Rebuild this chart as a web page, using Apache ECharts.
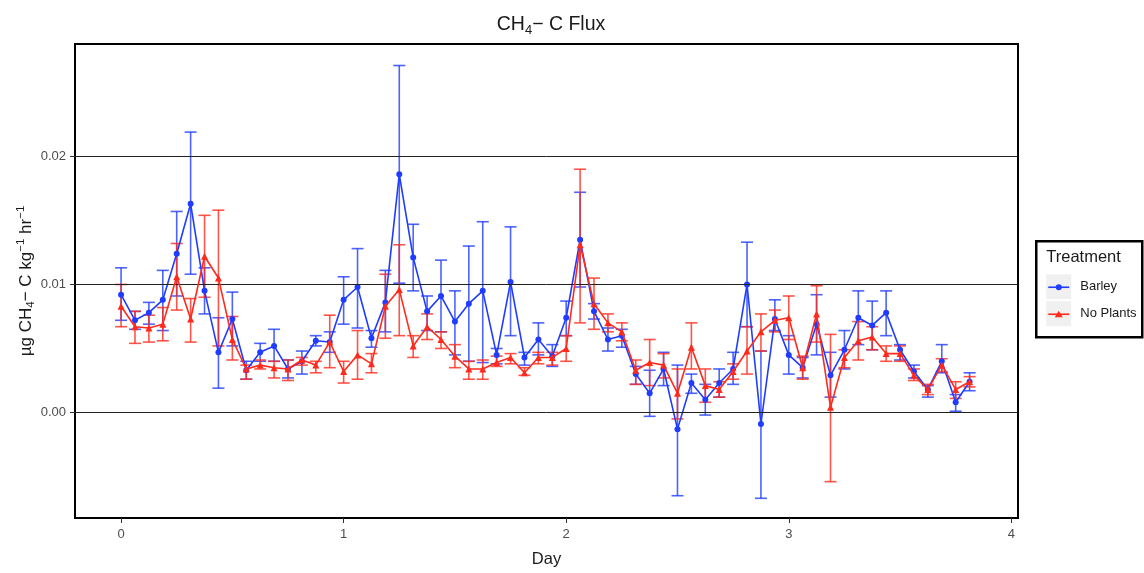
<!DOCTYPE html>
<html>
<head>
<meta charset="utf-8">
<script src="https://cdn.jsdelivr.net/npm/echarts@6/dist/echarts.min.js"></script>
<style>
  html, body { margin: 0; padding: 0; background: #fff; }
  #chart { width: 1144px; height: 573px; }
</style>
</head>
<body>
<div id="chart"></div>
<script>
// Sampling times (days since start, every 1.5 h)
const days = [
  0.0000, 0.0625, 0.1250, 0.1875, 0.2500, 0.3125, 0.3750, 0.4375,
  0.5000, 0.5625, 0.6250, 0.6875, 0.7500, 0.8125, 0.8750, 0.9375,
  1.0000, 1.0625, 1.1250, 1.1875, 1.2500, 1.3125, 1.3750, 1.4375,
  1.5000, 1.5625, 1.6250, 1.6875, 1.7500, 1.8125, 1.8750, 1.9375,
  2.0000, 2.0625, 2.1250, 2.1875, 2.2500, 2.3125, 2.3750, 2.4375,
  2.5000, 2.5625, 2.6250, 2.6875, 2.7500, 2.8125, 2.8750, 2.9375,
  3.0000, 3.0625, 3.1250, 3.1875, 3.2500, 3.3125, 3.3750, 3.4375,
  3.5000, 3.5625, 3.6250, 3.6875, 3.7500, 3.8125
];

// Barley: mean flux and error bar limits
const barleyMean = [
  0.0092, 0.0072, 0.0078, 0.0088, 0.0124, 0.0163, 0.0095, 0.0047,
  0.0073, 0.0033, 0.0047, 0.0052, 0.0034, 0.0040, 0.0056, 0.0055,
  0.0088, 0.0098, 0.0058, 0.0086, 0.0186, 0.0121, 0.0079, 0.0091,
  0.0071, 0.0085, 0.0095, 0.0045, 0.0102, 0.0043, 0.0057, 0.0044,
  0.0074, 0.0135, 0.0079, 0.0057, 0.0060, 0.0030, 0.0015, 0.0034,
  -0.0013, 0.0023, 0.0010, 0.0023, 0.0034, 0.0100, -0.0009, 0.0073,
  0.0045, 0.0035, 0.0069, 0.0029, 0.0049, 0.0074, 0.0068, 0.0078,
  0.0049, 0.0032, 0.0018, 0.0040, 0.0008, 0.0024
];
const barleyHigh = [
  0.0113, 0.0079, 0.0086, 0.0111, 0.0157, 0.0219, 0.0113, 0.0074,
  0.0094, 0.0040, 0.0054, 0.0065, 0.0041, 0.0048, 0.0060, 0.0063,
  0.0106, 0.0128, 0.0064, 0.0111, 0.0271, 0.0147, 0.0091, 0.0119,
  0.0095, 0.0130, 0.0149, 0.0050, 0.0145, 0.0047, 0.0070, 0.0053,
  0.0087, 0.0172, 0.0085, 0.0066, 0.0065, 0.0036, 0.0033, 0.0047,
  0.0037, 0.0030, 0.0022, 0.0034, 0.0047, 0.0133, 0.0048, 0.0088,
  0.0060, 0.0043, 0.0092, 0.0047, 0.0064, 0.0095, 0.0087, 0.0095,
  0.0053, 0.0037, 0.0021, 0.0053, 0.0014, 0.0031
];
const barleyLow = [
  0.0072, 0.0065, 0.0069, 0.0064, 0.0091, 0.0108, 0.0077, 0.0019,
  0.0052, 0.0026, 0.0040, 0.0040, 0.0027, 0.0030, 0.0052, 0.0047,
  0.0069, 0.0066, 0.0051, 0.0063, 0.0101, 0.0095, 0.0064, 0.0063,
  0.0045, 0.0040, 0.0039, 0.0038, 0.0060, 0.0037, 0.0045, 0.0036,
  0.0060, 0.0098, 0.0073, 0.0048, 0.0051, 0.0022, -0.0003, 0.0021,
  -0.0065, 0.0015, -0.0002, 0.0012, 0.0022, 0.0067, -0.0067, 0.0064,
  0.0030, 0.0027, 0.0045, 0.0012, 0.0034, 0.0053, 0.0049, 0.0060,
  0.0041, 0.0027, 0.0012, 0.0031, 0.0001, 0.0017
];

// No Plants: mean flux and error bar limits
const noPlantsMean = [
  0.0083, 0.0067, 0.0066, 0.0069, 0.0106, 0.0073, 0.0122, 0.0105,
  0.0057, 0.0034, 0.0037, 0.0035, 0.0034, 0.0041, 0.0037, 0.0055,
  0.0032, 0.0045, 0.0038, 0.0083, 0.0096, 0.0052, 0.0067, 0.0057,
  0.0044, 0.0034, 0.0034, 0.0039, 0.0043, 0.0031, 0.0043, 0.0043,
  0.0050, 0.0131, 0.0085, 0.0070, 0.0063, 0.0033, 0.0039, 0.0037,
  0.0015, 0.0051, 0.0021, 0.0018, 0.0032, 0.0048, 0.0063, 0.0072,
  0.0074, 0.0035, 0.0077, 0.0004, 0.0043, 0.0056, 0.0059, 0.0046,
  0.0046, 0.0029, 0.0018, 0.0037, 0.0018, 0.0024
];
const noPlantsHigh = [
  0.0100, 0.0079, 0.0076, 0.0082, 0.0132, 0.0089, 0.0154, 0.0158,
  0.0075, 0.0037, 0.0041, 0.0040, 0.0041, 0.0043, 0.0040, 0.0076,
  0.0040, 0.0064, 0.0046, 0.0108, 0.0131, 0.0060, 0.0077, 0.0063,
  0.0053, 0.0040, 0.0041, 0.0044, 0.0046, 0.0035, 0.0047, 0.0047,
  0.0060, 0.0190, 0.0105, 0.0077, 0.0070, 0.0041, 0.0057, 0.0046,
  0.0034, 0.0070, 0.0034, 0.0024, 0.0038, 0.0067, 0.0077, 0.0080,
  0.0091, 0.0044, 0.0099, 0.0061, 0.0049, 0.0071, 0.0067, 0.0052,
  0.0052, 0.0034, 0.0022, 0.0042, 0.0024, 0.0028
];
const noPlantsLow = [
  0.0067, 0.0054, 0.0055, 0.0056, 0.0080, 0.0055, 0.0090, 0.0052,
  0.0041, 0.0026, 0.0034, 0.0027, 0.0025, 0.0037, 0.0031, 0.0035,
  0.0023, 0.0026, 0.0031, 0.0058, 0.0060, 0.0043, 0.0057, 0.0050,
  0.0035, 0.0026, 0.0026, 0.0036, 0.0038, 0.0029, 0.0038, 0.0037,
  0.0040, 0.0070, 0.0065, 0.0063, 0.0056, 0.0022, 0.0021, 0.0027,
  -0.0005, 0.0034, 0.0008, 0.0012, 0.0026, 0.0030, 0.0048, 0.0063,
  0.0057, 0.0026, 0.0055, -0.0054, 0.0035, 0.0041, 0.0049, 0.0040,
  0.0040, 0.0025, 0.0014, 0.0032, 0.0011, 0.0020
];

// Axis ticks
const xTicks = [0, 1, 2, 3, 4];
const yTicks = [0.00, 0.01, 0.02];

const BLUE = '#1f3cff';
const RED = '#ff2a1c';
const FONT = '"Liberation Sans", Arial, Helvetica, sans-serif';
const INK = '#1a1a1a';

const zip = (a, b) => a.map((v, i) => [v, b[i]]);
const errRows = (lo, hi) => days.map((d, i) => [d, lo[i], hi[i]]);

// Vertical error bar with flat caps at both ends
function errorBars(color) {
  return function (params, api) {
    const x = api.value(0);
    const lo = api.coord([x, api.value(1)]);
    const hi = api.coord([x, api.value(2)]);
    const half = 6;
    const style = { stroke: color, lineWidth: 1.6, opacity: 0.8 };
    return {
      type: 'group',
      children: [
        { type: 'line', shape: { x1: hi[0], y1: hi[1], x2: lo[0], y2: lo[1] }, style },
        { type: 'line', shape: { x1: hi[0] - half, y1: hi[1], x2: hi[0] + half, y2: hi[1] }, style },
        { type: 'line', shape: { x1: lo[0] - half, y1: lo[1], x2: lo[0] + half, y2: lo[1] }, style }
      ]
    };
  };
}

const chart = echarts.init(document.getElementById('chart'), null, { renderer: 'canvas' });

const option = {
  animation: false,
  backgroundColor: '#fff',
  textStyle: { fontFamily: FONT },
  title: {
    text: '{a|CH}{b|4}{a|\u2212 C Flux}',
    left: 546, top: 8, textAlign: 'center',
    textStyle: {
      fontWeight: 'normal',
      rich: {
        a: { fontSize: 19.5, fontFamily: FONT, fontWeight: 'normal', color: INK, lineHeight: 24 },
        b: { fontSize: 13, fontFamily: FONT, fontWeight: 'normal', color: INK, verticalAlign: 'bottom', padding: [11, 0, 0, 0] }
      }
    }
  },
  grid: {
    left: 75, right: 126, top: 44, bottom: 44,
    show: true, borderColor: '#000', borderWidth: 2, backgroundColor: '#fff'
  },
  xAxis: {
    type: 'value',
    min: -0.207, max: 4.03,
    name: 'Day', nameLocation: 'middle', nameGap: 33,
    nameTextStyle: { fontSize: 16.5, color: INK, fontFamily: FONT },
    axisLine: { show: false, onZero: false },
    splitLine: { show: false },
    axisTick: { show: true, customValues: xTicks, length: 5, lineStyle: { color: '#333' } },
    axisLabel: { customValues: xTicks, color: '#4d4d4d', fontSize: 13, margin: 10, fontFamily: FONT,
      formatter: v => String(v) }
  },
  yAxis: {
    type: 'value',
    min: -0.00824, max: 0.02878,
    name: '{a|\u00b5g CH}{b|4}{a|\u2212 C kg}{c|\u22121}{a| hr}{c|\u22121}',
    nameLocation: 'middle', nameGap: 38, nameRotate: 90, nameMoveOverlap: false,
    nameTextStyle: {
      rich: {
        a: { fontSize: 17, fontFamily: FONT, color: INK, lineHeight: 22 },
        b: { fontSize: 11.5, fontFamily: FONT, color: INK, verticalAlign: 'bottom', padding: [10, 0, 0, 0] },
        c: { fontSize: 11.5, fontFamily: FONT, color: INK, verticalAlign: 'top', padding: [0, 0, 8, 0] }
      }
    },
    axisLine: { show: false, onZero: false },
    splitLine: { show: false },
    axisTick: { show: true, customValues: yTicks, length: 5, lineStyle: { color: '#333' } },
    axisLabel: { customValues: yTicks, color: '#4d4d4d', fontSize: 13, margin: 9, fontFamily: FONT,
      formatter: v => v.toFixed(2) }
  },
  series: [
    {
      // horizontal reference lines at the labelled y ticks
      type: 'line', data: [], silent: true, z: 1,
      markLine: {
        silent: true, symbol: 'none', animation: false,
        label: { show: false },
        lineStyle: { color: '#222', width: 1, type: 'solid' },
        data: yTicks.map(v => ({ yAxis: v }))
      }
    },
    {
      name: 'Barley errors', type: 'custom', z: 2,
      data: errRows(barleyLow, barleyHigh),
      renderItem: errorBars(BLUE)
    },
    {
      name: 'No Plants errors', type: 'custom', z: 3,
      data: errRows(noPlantsLow, noPlantsHigh),
      renderItem: errorBars(RED)
    },
    {
      name: 'Barley', type: 'line', z: 4,
      data: zip(days, barleyMean),
      symbol: 'circle', symbolSize: 6,
      lineStyle: { color: BLUE, width: 1.6 },
      itemStyle: { color: BLUE }
    },
    {
      name: 'No Plants', type: 'line', z: 5,
      data: zip(days, noPlantsMean),
      symbol: 'triangle', symbolSize: 7,
      lineStyle: { color: RED, width: 1.6 },
      itemStyle: { color: RED }
    }
  ],
  graphic: [
    {
      type: 'group', left: 1035, top: 240,
      children: [
        { type: 'rect', shape: { x: 0, y: 0, width: 106, height: 96 },
          style: { fill: '#fff', stroke: '#000', lineWidth: 2.5 } },
        { type: 'text', x: 10, y: 8,
          style: { text: 'Treatment', fontSize: 16.5, fontFamily: FONT, fill: INK } },
        { type: 'rect', shape: { x: 10, y: 33, width: 25, height: 25 }, style: { fill: '#f0f0f0' } },
        { type: 'line', shape: { x1: 12, y1: 46, x2: 33, y2: 46 }, style: { stroke: BLUE, lineWidth: 1.6 } },
        { type: 'circle', shape: { cx: 22.5, cy: 46, r: 3 }, style: { fill: BLUE } },
        { type: 'text', x: 44, y: 39,
          style: { text: 'Barley', fontSize: 13, fontFamily: FONT, fill: INK } },
        { type: 'rect', shape: { x: 10, y: 60, width: 25, height: 25 }, style: { fill: '#f0f0f0' } },
        { type: 'line', shape: { x1: 12, y1: 73, x2: 33, y2: 73 }, style: { stroke: RED, lineWidth: 1.6 } },
        { type: 'polygon', shape: { points: [[22.5, 69.5], [26.5, 76], [18.5, 76]] }, style: { fill: RED } },
        { type: 'text', x: 44, y: 66,
          style: { text: 'No Plants', fontSize: 13, fontFamily: FONT, fill: INK } }
      ]
    }
  ]
};

chart.setOption(option);
</script>
</body>
</html>
